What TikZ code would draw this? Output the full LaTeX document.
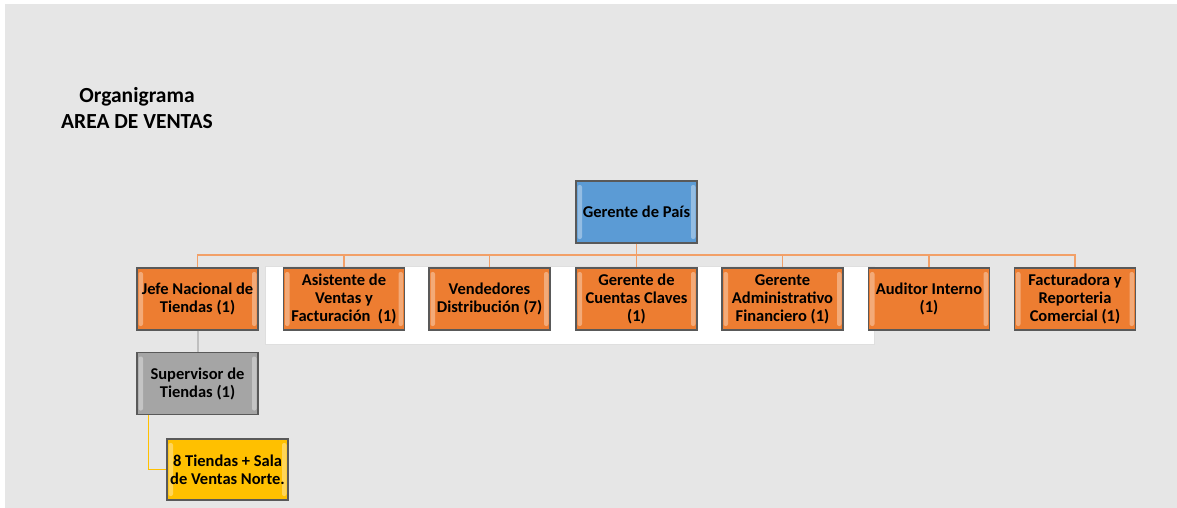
\documentclass[tikz,border=0pt]{standalone}
\usepackage{fontspec}
\setmainfont{Carlito}
\usepackage{tikz}

\definecolor{fondo}{HTML}{E6E6E6}
\definecolor{naranja}{HTML}{ED7D31}
\definecolor{azul}{HTML}{5B9BD5}
\definecolor{gris}{HTML}{A5A5A5}
\definecolor{amarillo}{HTML}{FFC000}
\definecolor{borde}{HTML}{595959}
\definecolor{bus}{HTML}{F2A068}

\tikzset{
    puesto/.style={draw=borde, line width=1.2pt, minimum width=121pt, minimum height=62pt,
        inner sep=1pt, align=center, font=\bfseries\fontsize{16.5}{18}\selectfont,
        path picture={
            \fill[white, opacity=.35, rounded corners=2pt]
                ([xshift=1.5pt,yshift=-4pt]path picture bounding box.north west) rectangle
                ([xshift=6pt,yshift=4pt]path picture bounding box.south west);
            \fill[white, opacity=.35, rounded corners=2pt]
                ([xshift=-1.5pt,yshift=-4pt]path picture bounding box.north east) rectangle
                ([xshift=-6pt,yshift=4pt]path picture bounding box.south east);
        }},
    naranja/.style={puesto, fill=naranja},
    linea/.style={draw=bus, line width=1.4pt}
}

\begin{document}
\begin{tikzpicture}[x=1pt, y=-1pt]
    \useasboundingbox (0,0) rectangle (1177,508);
    \fill[white] (0,0) rectangle (1177,508);
    \fill[fondo] (5,4) rectangle (1177,508);
    \draw[gray!25, fill=white] (265,266) rectangle (874,344); % panel

    \node[align=center, font=\bfseries\fontsize{21.5}{26}\selectfont] (titulo) at (137,108)
        {Organigrama\\AREA DE VENTAS};

    \node[puesto, fill=azul] (gerente) at (636.5,212) {Gerente de País};

    \node[naranja] (jefe) at (197.5,299) {Jefe Nacional de\\Tiendas (1)};
    \node[naranja] (asist) at (344,299) {Asistente de\\Ventas y\\Facturación\ \ (1)};
    \node[naranja] (vend) at (489.5,299) {Vendedores\\Distribución (7)};
    \node[naranja] (cuentas) at (636.5,299) {Gerente de\\Cuentas Claves\\(1)};
    \node[naranja] (admin) at (782.5,299) {Gerente\\Administrativo\\Financiero (1)};
    \node[naranja] (audit) at (929,299) {Auditor Interno\\(1)};
    \node[naranja] (fact) at (1075,299) {Facturadora y\\Reporteria\\Comercial (1)};

    \node[puesto, fill=gris] (superv) at (197.5,383.5) {Supervisor de\\Tiendas (1)};
    \node[puesto, fill=amarillo, minimum height=61pt] (tiendas) at (227.5,469.5)
        {8 Tiendas + Sala\\de Ventas Norte.};

    % Conectores
    \coordinate (bus) at (636.5,255);
    \draw[linea] (gerente.south) -- (bus);
    \foreach \n in {jefe,asist,vend,cuentas,admin,audit,fact}
        \draw[linea] (bus) -| (\n.north);
    \draw[gray!50, line width=2pt] (jefe.south) -- (superv.north);
    \draw[amarillo, line width=1.2pt] ([xshift=12pt]superv.south west) |- (tiendas.west);
\end{tikzpicture}
\end{document}
